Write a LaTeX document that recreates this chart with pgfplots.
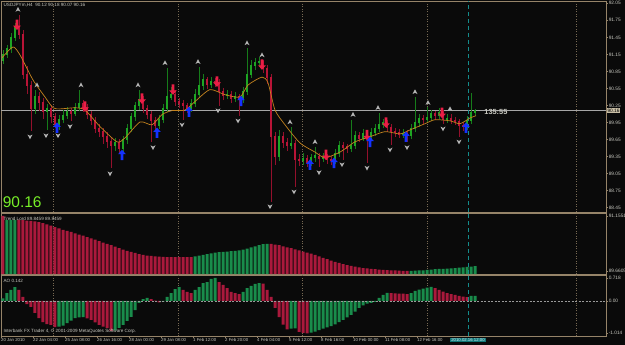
\documentclass[border=0pt]{standalone}
\usepackage{fontspec}
\setmainfont{Liberation Sans}
\usepackage{pgfplots}
\usepackage{pgfplotstable}
\pgfplotsset{compat=1.18}
\definecolor{bg}{RGB}{10,10,10}
\definecolor{frame}{RGB}{150,132,105}
\definecolor{gridc}{RGB}{120,106,84}
\definecolor{lbl}{RGB}{200,200,192}
\definecolor{cup}{RGB}{30,165,35}
\definecolor{cdn}{RGB}{185,20,55}
\definecolor{hup}{RGB}{25,140,75}
\definecolor{hdn}{RGB}{170,25,60}
\definecolor{maline}{RGB}{195,130,30}
\definecolor{arrred}{RGB}{235,30,70}
\definecolor{arrblue}{RGB}{20,50,255}
\definecolor{fract}{RGB}{180,180,180}
\definecolor{cyanl}{RGB}{20,140,140}
\definecolor{lime}{RGB}{120,240,40}
\definecolor{pbox}{RGB}{200,190,165}

\pgfdeclareplotmark{uparr}{%
  \pgfpathmoveto{\pgfpoint{0pt}{5.2pt}}%
  \pgfpathlineto{\pgfpoint{3.8pt}{0.8pt}}%
  \pgfpathlineto{\pgfpoint{1.4pt}{0.8pt}}%
  \pgfpathlineto{\pgfpoint{1.4pt}{-5.2pt}}%
  \pgfpathlineto{\pgfpoint{-1.4pt}{-5.2pt}}%
  \pgfpathlineto{\pgfpoint{-1.4pt}{0.8pt}}%
  \pgfpathlineto{\pgfpoint{-3.8pt}{0.8pt}}%
  \pgfpathclose\pgfusepathqfill}
\pgfdeclareplotmark{dnarr}{%
  \pgfpathmoveto{\pgfpoint{0pt}{-5.2pt}}%
  \pgfpathlineto{\pgfpoint{3.8pt}{-0.8pt}}%
  \pgfpathlineto{\pgfpoint{1.4pt}{-0.8pt}}%
  \pgfpathlineto{\pgfpoint{1.4pt}{5.2pt}}%
  \pgfpathlineto{\pgfpoint{-1.4pt}{5.2pt}}%
  \pgfpathlineto{\pgfpoint{-1.4pt}{-0.8pt}}%
  \pgfpathlineto{\pgfpoint{-3.8pt}{-0.8pt}}%
  \pgfpathclose\pgfusepathqfill}
\pgfdeclareplotmark{fup}{%
  \pgfpathmoveto{\pgfpoint{0pt}{2.6pt}}%
  \pgfpathlineto{\pgfpoint{2.5pt}{-2.2pt}}%
  \pgfpathlineto{\pgfpoint{0pt}{-0.9pt}}%
  \pgfpathlineto{\pgfpoint{-2.5pt}{-2.2pt}}%
  \pgfpathclose\pgfusepathqfill}
\pgfdeclareplotmark{fdn}{%
  \pgfpathmoveto{\pgfpoint{0pt}{-2.6pt}}%
  \pgfpathlineto{\pgfpoint{2.5pt}{2.2pt}}%
  \pgfpathlineto{\pgfpoint{0pt}{0.9pt}}%
  \pgfpathlineto{\pgfpoint{-2.5pt}{2.2pt}}%
  \pgfpathclose\pgfusepathqfill}

\pgfplotstableread{
i o h l c
0 91.05 91.22 90.98 91.15
1 91.15 91.32 91.08 91.25
2 91.25 91.52 91.18 91.45
3 91.45 91.70 91.38 91.62
4 91.62 91.85 91.42 91.50
5 91.50 91.58 90.72 90.80
6 90.80 90.95 90.45 90.60
7 90.60 90.68 89.80 90.20
8 90.20 90.52 90.10 90.40
9 90.40 90.48 90.15 90.30
10 90.30 90.38 90.02 90.15
11 90.15 90.28 89.82 90.20
12 90.20 90.26 89.95 90.05
13 90.05 90.12 89.85 89.92
14 89.92 90.08 89.82 90.00
15 90.00 90.18 89.94 90.08
16 90.08 90.22 90.02 90.15
17 90.15 90.20 89.97 90.12
18 90.12 90.30 90.06 90.22
19 90.22 90.52 90.16 90.28
20 90.28 90.34 90.14 90.22
21 90.22 90.28 90.02 90.10
22 90.10 90.16 89.90 89.98
23 89.98 90.04 89.76 89.85
24 89.85 89.92 89.70 89.80
25 89.80 89.86 89.58 89.70
26 89.70 89.78 89.50 89.62
27 89.62 89.70 89.15 89.55
28 89.55 89.68 89.45 89.60
29 89.60 89.66 89.40 89.50
30 89.50 89.72 89.44 89.65
31 89.65 89.92 89.58 89.85
32 89.85 90.12 89.78 90.05
33 90.05 90.32 89.98 90.25
34 90.25 90.52 90.18 90.35
35 90.35 90.42 90.12 90.20
36 90.20 90.26 90.02 90.10
37 90.10 90.16 89.60 89.98
38 89.98 90.04 89.82 89.90
39 89.90 90.08 89.84 90.00
40 90.00 90.28 89.94 90.20
41 90.20 90.92 90.14 90.40
42 90.40 90.58 90.34 90.45
43 90.45 90.52 90.24 90.32
44 90.32 90.38 90.20 90.28
45 90.28 90.34 90.00 90.25
46 90.25 90.30 90.12 90.20
47 90.20 90.36 90.14 90.28
48 90.28 90.54 90.22 90.45
49 90.45 90.93 90.38 90.60
50 90.60 90.80 90.52 90.70
51 90.70 90.76 90.54 90.62
52 90.62 90.76 90.56 90.68
53 90.68 90.74 90.58 90.66
54 90.66 90.72 90.25 90.50
55 90.50 90.56 90.34 90.42
56 90.42 90.52 90.36 90.45
57 90.45 90.50 90.30 90.38
58 90.38 90.48 90.32 90.40
59 90.40 90.46 90.07 90.36
60 90.36 90.58 90.30 90.50
61 90.50 91.27 90.44 90.80
62 90.80 91.05 90.74 90.95
63 90.95 91.08 90.88 91.00
64 91.00 91.10 90.92 91.02
65 91.02 91.05 90.82 90.90
66 90.90 90.96 90.62 90.75
67 90.75 90.80 88.56 89.70
68 89.70 89.78 89.20 89.35
69 89.35 89.82 89.28 89.70
70 89.70 89.78 89.50 89.60
71 89.60 89.68 89.45 89.55
72 89.55 89.88 89.48 89.58
73 89.58 89.64 88.82 89.30
74 89.30 89.40 89.18 89.28
75 89.28 89.42 89.20 89.32
76 89.32 89.38 89.17 89.25
77 89.25 89.40 89.18 89.33
78 89.33 89.52 89.26 89.36
79 89.36 89.42 89.16 89.32
80 89.32 89.42 89.25 89.35
81 89.35 89.40 89.22 89.30
82 89.30 89.36 89.20 89.28
83 89.28 89.48 89.22 89.40
84 89.40 89.62 89.34 89.55
85 89.55 89.60 89.30 89.52
86 89.52 89.58 89.42 89.50
87 89.50 90.00 89.44 89.55
88 89.55 89.80 89.48 89.72
89 89.72 89.78 89.60 89.68
90 89.68 89.84 89.62 89.75
91 89.75 89.80 89.24 89.70
92 89.70 89.86 89.64 89.78
93 89.78 89.92 89.72 89.85
94 89.85 90.12 89.78 89.92
95 89.92 90.02 89.86 89.95
96 89.95 90.00 89.78 89.86
97 89.86 89.92 89.56 89.80
98 89.80 89.86 89.70 89.78
99 89.78 89.84 89.68 89.75
100 89.75 89.84 89.68 89.76
101 89.76 89.82 89.60 89.72
102 89.72 89.92 89.66 89.85
103 89.85 90.40 89.78 89.95
104 89.95 90.10 89.88 90.02
105 90.02 90.08 89.92 90.00
106 90.00 90.22 89.94 90.04
107 90.04 90.18 89.98 90.10
108 90.10 90.16 90.00 90.08
109 90.08 90.20 90.02 90.12
110 90.12 90.18 89.93 90.00
111 90.00 90.10 89.94 90.02
112 90.02 90.10 89.92 89.98
113 89.98 90.04 89.90 89.97
114 89.97 90.02 89.70 89.90
115 89.90 89.96 89.80 89.88
116 89.88 90.06 89.82 89.98
117 89.98 90.47 89.92 90.12
118 90.12 90.18 90.07 90.16
}\candles

\pgfplotstableread{
i v g
0 91.155 0
1 91.05 1
2 91.05 1
3 91.05 1
4 91.05 0
5 91.04 0
6 91.03 0
7 91.02 0
8 91.01 0
9 90.99 0
10 90.96 0
11 90.93 0
12 90.89 0
13 90.85 0
14 90.82 0
15 90.78 0
16 90.75 0
17 90.72 0
18 90.68 0
19 90.65 0
20 90.62 0
21 90.58 0
22 90.55 0
23 90.51 0
24 90.47 0
25 90.43 0
26 90.40 0
27 90.36 0
28 90.32 0
29 90.28 0
30 90.24 0
31 90.21 0
32 90.18 0
33 90.15 0
34 90.12 0
35 90.10 0
36 90.08 0
37 90.07 0
38 90.06 0
39 90.05 0
40 90.045 0
41 90.04 0
42 90.04 0
43 90.04 0
44 90.04 0
45 90.04 0
46 90.04 0
47 90.04 0
48 90.06 1
49 90.08 1
50 90.10 1
51 90.12 1
52 90.14 1
53 90.16 1
54 90.17 1
55 90.18 1
56 90.19 1
57 90.20 1
58 90.21 1
59 90.22 1
60 90.24 1
61 90.27 1
62 90.30 1
63 90.33 1
64 90.36 1
65 90.39 1
66 90.40 1
67 90.40 0
68 90.38 0
69 90.36 0
70 90.33 0
71 90.30 0
72 90.28 0
73 90.25 0
74 90.22 0
75 90.19 0
76 90.16 0
77 90.13 0
78 90.10 0
79 90.06 0
80 90.02 0
81 89.98 0
82 89.94 0
83 89.91 0
84 89.88 0
85 89.85 0
86 89.82 0
87 89.80 0
88 89.78 0
89 89.76 0
90 89.74 0
91 89.73 0
92 89.72 0
93 89.71 0
94 89.70 0
95 89.69 0
96 89.685 0
97 89.68 0
98 89.675 0
99 89.67 0
100 89.665 0
101 89.661 0
102 89.665 1
103 89.67 1
104 89.675 1
105 89.68 1
106 89.69 1
107 89.70 1
108 89.71 1
109 89.715 1
110 89.72 1
111 89.725 1
112 89.73 1
113 89.74 1
114 89.75 1
115 89.76 1
116 89.77 1
117 89.78 1
118 89.79 1
}\trend

\pgfplotstableread{
i v g
0 0.08 1
1 0.25 1
2 0.35 1
3 0.44 1
4 0.35 0
5 0.13 0
6 -0.10 0
7 -0.19 0
8 -0.38 0
9 -0.54 0
10 -0.67 0
11 -0.73 0
12 -0.76 0
13 -0.83 0
14 -0.81 1
15 -0.78 1
16 -0.70 1
17 -0.62 1
18 -0.54 1
19 -0.52 1
20 -0.51 1
21 -0.55 0
22 -0.60 0
23 -0.68 0
24 -0.76 0
25 -0.81 0
26 -0.86 0
27 -0.95 0
28 -0.93 1
29 -0.85 1
30 -0.76 1
31 -0.63 1
32 -0.50 1
33 -0.29 1
34 -0.06 1
35 0.06 1
36 0.10 1
37 0.06 0
38 0.01 0
39 -0.04 0
40 -0.02 1
41 0.13 1
42 0.25 1
43 0.38 1
44 0.44 1
45 0.35 0
46 0.29 0
47 0.25 0
48 0.35 1
49 0.44 1
50 0.57 1
51 0.60 1
52 0.70 1
53 0.73 1
54 0.60 0
55 0.51 0
56 0.41 0
57 0.29 0
58 0.25 0
59 0.22 0
60 0.29 1
61 0.41 1
62 0.48 1
63 0.54 1
64 0.57 1
65 0.55 0
66 0.35 0
67 0.13 0
68 -0.22 0
69 -0.51 0
70 -0.75 0
71 -0.90 0
72 -0.88 1
73 -0.87 1
74 -0.98 0
75 -1.01 0
76 -1.03 0
77 -1.00 1
78 -0.97 1
79 -0.92 1
80 -0.88 1
81 -0.84 1
82 -0.80 1
83 -0.74 1
84 -0.67 1
85 -0.60 1
86 -0.52 1
87 -0.44 1
88 -0.34 1
89 -0.22 1
90 -0.14 1
91 -0.08 1
92 -0.06 1
93 -0.03 1
94 0.10 1
95 0.19 1
96 0.26 1
97 0.25 0
98 0.24 0
99 0.23 0
100 0.23 0
101 0.22 0
102 0.25 1
103 0.32 1
104 0.36 1
105 0.39 1
106 0.42 1
107 0.45 1
108 0.41 0
109 0.35 0
110 0.30 0
111 0.25 0
112 0.22 0
113 0.19 0
114 0.16 0
115 0.14 0
116 0.12 0
117 0.16 1
118 0.16 1
}\ao

\pgfplotsset{mt/.style={scale only axis, width=605pt, xmin=-0.5, xmax=150.75,
  axis line style={frame, line width=0.9pt}, tick style={frame, line width=0.5pt},
  yticklabel pos=right, ytick pos=right, ytick align=outside,
  yticklabel style={font=\fontsize{4.8}{5}\selectfont, text=lbl, inner sep=0.6pt},
  major tick length=2pt, clip mode=individual,
  /pgf/number format/assume math mode=true,
  x grid style={gridc, line width=0.45pt, dash pattern=on 0.7pt off 1.8pt}},
  gridx/.style={xtick={12.5,43.75,74.75,106,143.25}, xticklabels={}, xmajorgrids, xtick style={draw=none}}}

\begin{document}
\begin{tikzpicture}
\path[use as bounding box, fill=bg] (0,0) rectangle (625pt,-345pt);

% ---------------- main price panel
\begin{axis}[mt, gridx, at={(1pt,-1pt)}, anchor=north west, height=211pt,
  ymin=88.375, ymax=92.09,
  ytick={88.45,88.75,89.05,89.35,89.65,89.95,90.25,90.55,90.85,91.15,91.45,91.75,92.05},
  yticklabels={88.45,88.75,89.05,89.35,89.65,89.95,90.25,90.55,90.85,91.15,91.45,91.75,92.05}]
\addplot[gray!70, line width=0.5pt] coordinates {(-0.5,90.16) (150.75,90.16)};
\addplot[cyanl, line width=0.7pt, dash pattern=on 4pt off 3pt] coordinates {(116.25,88.375) (116.25,92.09)};
% wicks
\addplot[draw=none, mark=none, x filter/.expression={(\thisrow{c}>=\thisrow{o}) ? x : nan},
  error bars/.cd, y dir=both, y explicit, error mark=none, error bar style={draw=cup!75!black, line width=0.8pt}]
  table[x=i, y expr={(\thisrow{h}+\thisrow{l})/2}, y error expr={(\thisrow{h}-\thisrow{l})/2}]{\candles};
\addplot[draw=none, mark=none, x filter/.expression={(\thisrow{c}<\thisrow{o}) ? x : nan},
  error bars/.cd, y dir=both, y explicit, error mark=none, error bar style={draw=cdn!80!black, line width=0.8pt}]
  table[x=i, y expr={(\thisrow{h}+\thisrow{l})/2}, y error expr={(\thisrow{h}-\thisrow{l})/2}]{\candles};
% bodies
\addplot[draw=none, mark=none, x filter/.expression={(\thisrow{c}>=\thisrow{o}) ? x : nan},
  error bars/.cd, y dir=both, y explicit, error mark=none, error bar style={draw=cup, line width=2.7pt}]
  table[x=i, y expr={(\thisrow{o}+\thisrow{c})/2}, y error expr={abs(\thisrow{c}-\thisrow{o})/2+0.01}]{\candles};
\addplot[draw=none, mark=none, x filter/.expression={(\thisrow{c}<\thisrow{o}) ? x : nan},
  error bars/.cd, y dir=both, y explicit, error mark=none, error bar style={draw=cdn, line width=2.7pt}]
  table[x=i, y expr={(\thisrow{o}+\thisrow{c})/2}, y error expr={abs(\thisrow{c}-\thisrow{o})/2+0.01}]{\candles};
% moving average
\addplot[maline, line width=0.7pt, smooth, tension=0.4] coordinates {
(-0.25,91.09) (2.5,91.28) (4.25,91.14) (7.5,90.70) (10.5,90.40) (12.5,90.21) (14.25,90.19)
(18,90.21) (20.5,90.17) (24.25,89.88) (28.5,89.61) (30.5,89.68) (34.25,89.96) (37.25,89.91)
(39.75,90.09) (42.25,90.16) (45.5,90.17) (48,90.32) (51.75,90.53) (55.5,90.44) (59.25,90.40)
(61.25,90.61) (64.75,90.75) (66.25,90.65) (68,90.17) (70.5,89.91) (74.25,89.59) (78,89.43)
(80.5,89.33) (84.25,89.43) (88,89.61) (91.75,89.70) (95.5,89.79) (99.25,89.75) (101.75,89.82)
(105.5,89.93) (108,90.00) (111.75,89.98) (114.25,89.93) (116.75,90.03) (118.25,90.07)};
% fractals
\addplot[only marks, mark=fup, color=fract] coordinates {
(3.75,91.94) (8.5,90.61) (19.5,90.61) (33.75,90.61) (40.5,91.00) (48.75,91.02) (61,91.35)
(64.75,91.14) (71.75,89.96) (78,89.61) (87.5,90.09) (93.75,90.21) (103,90.49) (106.25,90.30) (111.75,90.19)};
\addplot[only marks, mark=fdn, color=fract] coordinates {
(6.75,89.70) (10.75,89.72) (13.75,89.72) (16.75,89.88) (26.75,89.05) (37.5,89.51) (44.75,89.91)
(53.75,90.16) (58.75,89.98) (66.75,88.47) (72.75,88.73) (79,89.07) (84.75,89.21) (91,89.15)
(96.75,89.47) (101,89.51) (110,89.84) (114,89.61)};
% signal arrows
\addplot[only marks, mark=dnarr, color=arrred] coordinates {
(3.5,91.67) (20.5,90.23) (34.75,90.37) (42.5,90.53) (53.5,90.67) (64.75,90.97) (80.75,89.38)
(91,89.73) (95.75,89.95) (109.75,90.12)};
\addplot[only marks, mark=uparr, color=arrblue] coordinates {
(13.5,89.86) (29.75,89.38) (38.5,89.77) (46.5,90.14) (59.5,90.33) (76.75,89.21) (82.75,89.24)
(91.75,89.61) (100.75,89.70) (115.75,89.86)};
\node[anchor=north west, font=\fontsize{4.6}{5}\selectfont, text=lbl, inner sep=0pt] at (rel axis cs:0.004,0.988) {USDJPYm,H4\ \ 90.12 90.18 90.07 90.16};
\node[anchor=base west, font=\fontsize{15.5}{16}\selectfont, text=lime, inner sep=0pt] at (axis cs:-0.1,88.46) {90.16};
\node[anchor=west, font=\bfseries\fontsize{7.4}{8}\selectfont, text=lbl, inner sep=0pt] at (axis cs:120.3,90.13) {135:55};
\node[anchor=west, fill=pbox, text=black, font=\fontsize{4.8}{5}\selectfont, inner sep=0.7pt] at (axis cs:150.9,90.16) {90.16};
\end{axis}

% ---------------- Trend Lord panel
\begin{axis}[mt, gridx, at={(1pt,-213pt)}, anchor=north west, height=61pt,
  ymin=89.579, ymax=91.236, ytick={89.6605,91.1551}, yticklabels={89.6605,91.1551}]
\addplot[ybar, bar width=3pt, bar shift=0pt, fill=hdn, draw=none,
  x filter/.expression={(\thisrow{g}<0.5) ? x : nan}] table[x=i, y=v]{\trend};
\addplot[ybar, bar width=3pt, bar shift=0pt, fill=hup, draw=none,
  x filter/.expression={(\thisrow{g}>0.5) ? x : nan}] table[x=i, y=v]{\trend};
\addplot[cyanl, line width=0.7pt, dash pattern=on 4pt off 3pt] coordinates {(116.25,89.579) (116.25,91.236)};
\node[anchor=north west, font=\fontsize{4.6}{5}\selectfont, text=lbl, inner sep=0pt] at (rel axis cs:0.004,0.94) {Trend Lord 89.8459 89.8459};
\end{axis}

% ---------------- AO panel
\begin{axis}[mt, at={(1pt,-275pt)}, anchor=north west, height=61pt,
  ymin=-1.11, ymax=0.824, ytick={-1.014,0,0.718}, yticklabels={-1.014,0.00,0.718},
  xtick={-0.5,7.5,15.5,23.5,31.5,39.5,47.5,55.5,63.5,71.5,79.5,87.5,95.5,103.5},
  xticklabels={20 Jan 2010,22 Jan 04:00,25 Jan 08:00,26 Jan 16:00,28 Jan 00:00,29 Jan 08:00,1 Feb 12:00,2 Feb 20:00,4 Feb 04:00,5 Feb 12:00,8 Feb 16:00,10 Feb 00:00,11 Feb 08:00,12 Feb 16:00},
  xtick pos=bottom, xtick align=outside,
  xticklabel style={anchor=north west, font=\fontsize{4.3}{5}\selectfont, text=lbl, inner sep=0.5pt, xshift=-0.5pt},
  extra x ticks={12.5,43.75,74.75,106,143.25}, extra x tick labels={},
  extra x tick style={grid=major, major tick length=0pt}]
\addplot[ybar, bar width=3pt, bar shift=0pt, fill=hdn, draw=none,
  x filter/.expression={(\thisrow{g}<0.5) ? x : nan}] table[x=i, y=v]{\ao};
\addplot[ybar, bar width=3pt, bar shift=0pt, fill=hup, draw=none,
  x filter/.expression={(\thisrow{g}>0.5) ? x : nan}] table[x=i, y=v]{\ao};
\addplot[gray!80, line width=0.5pt, dash pattern=on 2pt off 1.5pt] coordinates {(-0.5,0) (150.75,0)};
\addplot[cyanl, line width=0.7pt, dash pattern=on 4pt off 3pt] coordinates {(116.25,-1.11) (116.25,0.824)};
\node[anchor=north west, font=\fontsize{4.6}{5}\selectfont, text=lbl, inner sep=0pt] at (rel axis cs:0.004,0.94) {AO 0.142};
\node[anchor=south west, font=\fontsize{4.6}{5}\selectfont, text=lbl, inner sep=0pt] at (rel axis cs:0.004,0.04) {Interbank FX Trader 4, © 2001-2009 MetaQuotes Software Corp.};
\node[anchor=north, fill=cyanl!85!black, text=white!85!cyan, font=\fontsize{4.3}{5}\selectfont, inner sep=0.8pt] at (axis cs:116.25,-1.16) {2010.02.16 12:00};
\end{axis}
\end{tikzpicture}
\end{document}
